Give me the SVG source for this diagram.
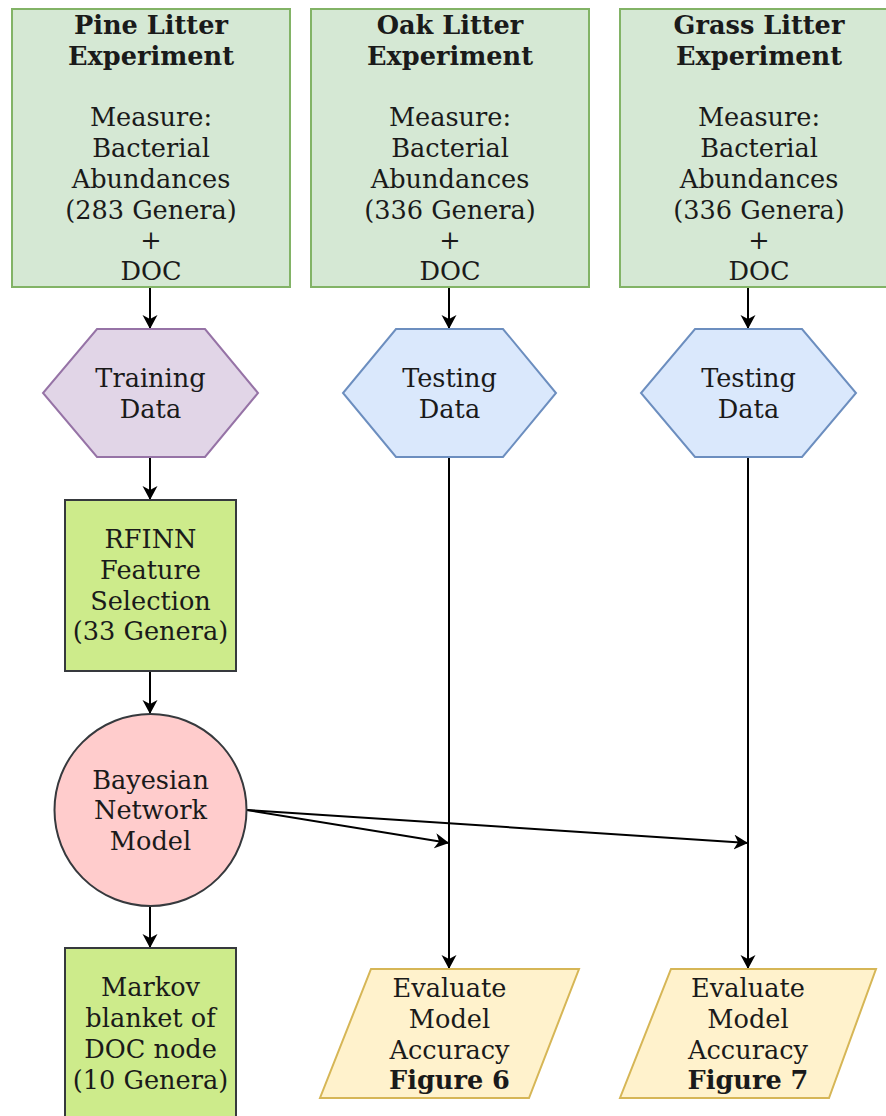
<svg xmlns="http://www.w3.org/2000/svg" width="886" height="1116" viewBox="0 0 886 1116">
<style>
text{font-family:"DejaVu Serif","Liberation Serif",serif;font-size:25.6px;fill:#1a1a1a;text-anchor:middle}
.b{font-weight:bold}
.exp{fill:#d5e8d4;stroke:#82b366;stroke-width:2}
.train{fill:#e1d5e7;stroke:#9673a6;stroke-width:2}
.test{fill:#dae8fc;stroke:#6c8ebf;stroke-width:2}
.proc{fill:#cdeb8b;stroke:#36393d;stroke-width:2}
.model{fill:#ffcccc;stroke:#36393d;stroke-width:2}
.eval{fill:#fff2cc;stroke:#d6b656;stroke-width:2}
.c{fill:none;stroke:#000;stroke-width:2;marker-end:url(#ah)}
</style>
<defs>
<marker id="ah" markerUnits="userSpaceOnUse" markerWidth="16" markerHeight="16" refX="14" refY="7.5" orient="auto" viewBox="0 0 16 16">
<path d="M0,0 L14,7.5 L0,15 L4,7.5 z" fill="#000"/>
</marker>
</defs>
<rect width="886" height="1116" fill="#fff"/>
<g id="connectors">
<line class="c" x1="150" y1="287" x2="150" y2="329"/>
<line class="c" x1="449" y1="287" x2="449" y2="329"/>
<line class="c" x1="748" y1="287" x2="748" y2="329"/>
<line class="c" x1="150" y1="457" x2="150" y2="500"/>
<line class="c" x1="150" y1="671" x2="150" y2="714"/>
<line class="c" x1="150" y1="906" x2="150" y2="948"/>
<line class="c" x1="449" y1="457" x2="449" y2="969"/>
<line class="c" x1="748" y1="457" x2="748" y2="969"/>
<line class="c" x1="247" y1="810" x2="449" y2="843"/>
<line class="c" x1="247" y1="810" x2="748" y2="843"/>
</g>
<g id="pine">
<rect class="exp" x="12" y="9" width="278" height="278"/>
<text x="151" y="33.8" class="b">Pine Litter</text>
<text x="151" y="64.6" class="b">Experiment</text>
<text x="151" y="126.2">Measure:</text>
<text x="151" y="157">Bacterial</text>
<text x="151" y="187.8">Abundances</text>
<text x="151" y="218.6">(283 Genera)</text>
<text x="151" y="249.4">+</text>
<text x="151" y="280.2">DOC</text>
</g>
<g id="oak">
<rect class="exp" x="311" y="9" width="278" height="278"/>
<text x="450" y="33.8" class="b">Oak Litter</text>
<text x="450" y="64.6" class="b">Experiment</text>
<text x="450" y="126.2">Measure:</text>
<text x="450" y="157">Bacterial</text>
<text x="450" y="187.8">Abundances</text>
<text x="450" y="218.6">(336 Genera)</text>
<text x="450" y="249.4">+</text>
<text x="450" y="280.2">DOC</text>
</g>
<g id="grass">
<rect class="exp" x="620" y="9" width="278" height="278"/>
<text x="759" y="33.8" class="b">Grass Litter</text>
<text x="759" y="64.6" class="b">Experiment</text>
<text x="759" y="126.2">Measure:</text>
<text x="759" y="157">Bacterial</text>
<text x="759" y="187.8">Abundances</text>
<text x="759" y="218.6">(336 Genera)</text>
<text x="759" y="249.4">+</text>
<text x="759" y="280.2">DOC</text>
</g>
<g id="training">
<polygon class="train" points="97,329 205,329 258,393 205,457 97,457 43,393"/>
<text x="150.5" y="387">Training</text>
<text x="150.5" y="417.8">Data</text>
</g>
<g id="testing-oak">
<polygon class="test" points="396,329 503,329 556,393 503,457 396,457 343,393"/>
<text x="449.5" y="387">Testing</text>
<text x="449.5" y="417.8">Data</text>
</g>
<g id="testing-grass">
<polygon class="test" points="695,329 802,329 856,393 802,457 695,457 641,393"/>
<text x="748.5" y="387">Testing</text>
<text x="748.5" y="417.8">Data</text>
</g>
<g id="rfinn">
<rect class="proc" x="65" y="500" width="171" height="171"/>
<text x="150.5" y="548">RFINN</text>
<text x="150.5" y="578.8">Feature</text>
<text x="150.5" y="609.6">Selection</text>
<text x="150.5" y="640.4">(33 Genera)</text>
</g>
<g id="bayesian">
<circle class="model" cx="150.5" cy="810" r="96"/>
<text x="150.5" y="788.6">Bayesian</text>
<text x="150.5" y="819.4">Network</text>
<text x="150.5" y="850.2">Model</text>
</g>
<g id="markov">
<rect class="proc" x="65" y="948" width="171" height="171"/>
<text x="150.5" y="996.4">Markov</text>
<text x="150.5" y="1027.2">blanket of</text>
<text x="150.5" y="1058">DOC node</text>
<text x="150.5" y="1088.8">(10 Genera)</text>
</g>
<g id="eval-oak">
<polygon class="eval" points="371,969 579,969 529,1098 320,1098"/>
<text x="449.5" y="997">Evaluate</text>
<text x="449.5" y="1027.8">Model</text>
<text x="449.5" y="1058.6">Accuracy</text>
<text x="449.5" y="1089.4" class="b">Figure 6</text>
</g>
<g id="eval-grass">
<polygon class="eval" points="671,969 876,969 829,1098 620,1098"/>
<text x="748" y="997">Evaluate</text>
<text x="748" y="1027.8">Model</text>
<text x="748" y="1058.6">Accuracy</text>
<text x="748" y="1089.4" class="b">Figure 7</text>
</g>
</svg>
